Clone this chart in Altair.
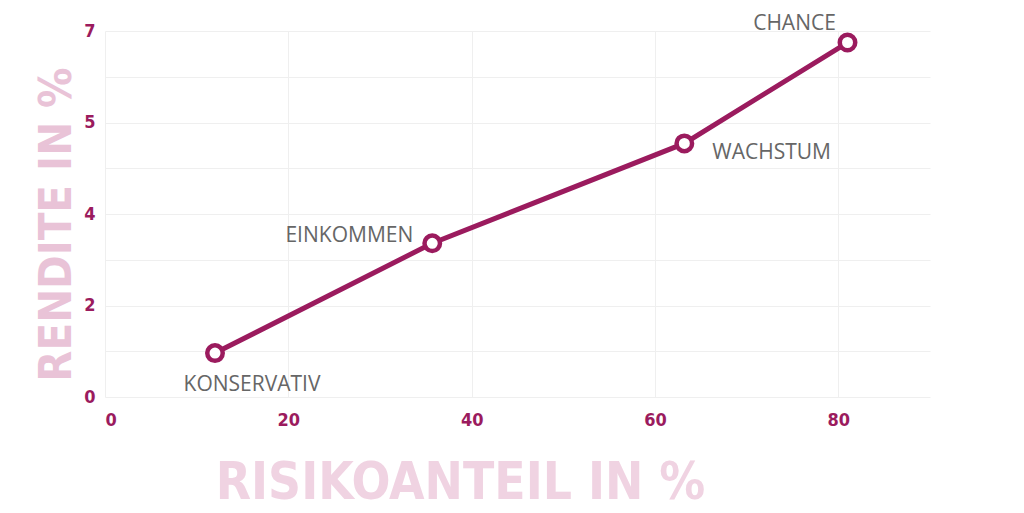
import altair as alt
import pandas as pd

# data
risk = [12.0, 35.7, 63.2, 81.0]
ret = [0.84, 2.94, 4.85, 6.78]
names = ["KONSERVATIV", "EINKOMMEN", "WACHSTUM", "CHANCE"]

x_ticks = [0, 20, 40, 60, 80]
y_grid = [0, 0.875, 1.75, 2.625, 3.5, 4.375, 5.25, 6.125, 7]

df = pd.DataFrame({"risk": risk, "ret": ret, "name": names})

MAG = "#9b1b5e"
COND = "DejaVu Sans Condensed, sans-serif"

x_enc = alt.X(
    "risk:Q",
    scale=alt.Scale(domain=[0, 90], nice=False),
    axis=alt.Axis(
        values=x_ticks, title="RISIKOANTEIL IN %", grid=True, gridColor="#efefef",
        ticks=False, domain=False, labelColor=MAG, labelFont=COND, labelFontSize=18,
        labelFontWeight="bold", labelPadding=14,
        titleFont=COND, titleFontSize=51, titleFontWeight="bold", titleColor="#f0d3e2",
        titleX=355, titleY=101, titleAnchor="middle", titleAlign="center",
        titleBaseline="alphabetic",
    ),
)
y_enc = alt.Y(
    "ret:Q",
    scale=alt.Scale(domain=[0, 7], nice=False),
    axis=alt.Axis(
        values=y_grid, title="RENDITE IN %", grid=True, gridColor="#efefef",
        ticks=False, domain=False, labelColor=MAG, labelFont=COND, labelFontSize=18,
        labelFontWeight="bold", labelPadding=10,
        labelExpr="datum.value % 1.75 == 0 ? format(round(datum.value), 'd') : ''",
        titleFont=COND, titleFontSize=45, titleFontWeight="bold", titleColor="#e9c3d7",
        titleAngle=-90, titleX=-35, titleY=193, titleAlign="center",
        titleBaseline="alphabetic",
    ),
)

base = alt.Chart(df).encode(x=x_enc, y=y_enc)

line = base.mark_line(color=MAG, strokeWidth=5)
pts = base.mark_point(shape="circle", filled=True, fill="white", stroke=MAG,
                      strokeWidth=4.5, size=240, opacity=1)

def lab(name, align, dx, dy):
    return base.transform_filter(alt.datum.name == name).mark_text(
        align=align, baseline="middle", dx=dx, dy=dy, font="Open Sans",
        fontSize=21, fontWeight=500, color="#666666"
    ).encode(text="name:N")

texts = [
    lab("KONSERVATIV", "center", 37, 32),
    lab("EINKOMMEN", "right", -19, -7),
    lab("WACHSTUM", "left", 28, 10),
    lab("CHANCE", "center", -53, -19),
]

chart = alt.layer(line, pts, *texts).properties(
    width=825, height=366,
    autosize=alt.AutoSizeParams(type="none"),
    padding={"left": 97, "top": 23, "right": 86, "bottom": 116},
).configure_view(stroke=None)

chart.save("out.html", embed_options={"renderer": "svg", "actions": False})
